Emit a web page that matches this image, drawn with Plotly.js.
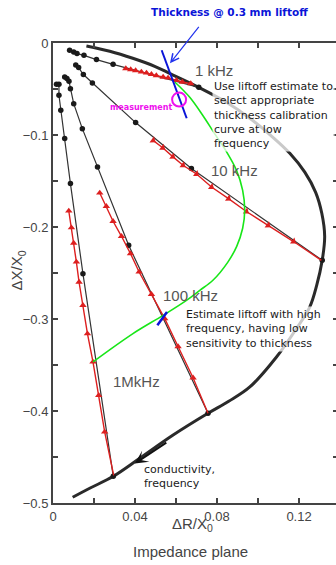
<!DOCTYPE html>
<html>
<head>
<meta charset="utf-8">
<script src="https://cdn.plot.ly/plotly-3.0.1.min.js"></script>
<style>
  html, body { margin: 0; padding: 0; overflow: hidden; background: #fff; }
  #chart { width: 338px; height: 565px; }
</style>
</head>
<body>
<div id="chart"></div>
<script>
// Normalised impedance-plane locus swept by conductivity / frequency
const arcR = [0.0163, 0.0277, 0.0389, 0.0496, 0.0599, 0.0711, 0.0838, 0.0960, 0.1067, 0.1155,
              0.1228, 0.1281, 0.1311, 0.1325, 0.1313, 0.1286, 0.1252, 0.1187, 0.1090, 0.0960,
              0.0857, 0.0756, 0.0584, 0.0423, 0.0294, 0.0179, 0.0096];
const arcX = [-0.0033, -0.0090, -0.0166, -0.0253, -0.0362, -0.0482, -0.0634, -0.0818, -0.1014, -0.1199,
              -0.1404, -0.1623, -0.1851, -0.2101, -0.2362, -0.2634, -0.2870, -0.3105, -0.3413, -0.3739,
              -0.3895, -0.4025, -0.4264, -0.4514, -0.4710, -0.4840, -0.4938];

// Measured liftoff curves (black, circles)
const meas1kR = [0.0081, 0.0101, 0.0117, 0.0151, 0.0212, 0.0293, 0.0711];
const meas1kX = [-0.0079, -0.0098, -0.0115, -0.0134, -0.0180, -0.0232, -0.0482];
const meas10kR = [0.0111, 0.0125, 0.0148, 0.0192, 0.0403, 0.0675, 0.1313];
const meas10kX = [-0.0239, -0.0267, -0.0343, -0.0435, -0.0865, -0.1365, -0.2362];
const meas100kR = [0.0057, 0.0068, 0.0078, 0.0085, 0.0101, 0.0143, 0.0217, 0.0369, 0.0756];
const meas100kX = [-0.0370, -0.0387, -0.0416, -0.0496, -0.0659, -0.0931, -0.1348, -0.2199, -0.4025];
const meas1MR = [0.0017, 0.0029, 0.0029, 0.0038, 0.0057, 0.0085, 0.0146, 0.0294];
const meas1MX = [-0.0449, -0.0449, -0.0568, -0.0732, -0.1039, -0.1528, -0.2507, -0.4710];

// Model liftoff curves (red, triangles)
const model1kR = [0.0355, 0.0379, 0.0403, 0.0431, 0.0456, 0.0480, 0.0504, 0.0537, 0.0561, 0.0602, 0.0631, 0.0672];
const model1kX = [-0.0278, -0.0289, -0.0300, -0.0315, -0.0326, -0.0340, -0.0354, -0.0370, -0.0380, -0.0405, -0.0424, -0.0441];
const model10kR = [0.0488, 0.0535, 0.0584, 0.0634, 0.0700, 0.0773, 0.0856, 0.0943, 0.1049, 0.1173, 0.1309];
const model10kX = [-0.1058, -0.1139, -0.1235, -0.1329, -0.1424, -0.1565, -0.1691, -0.1832, -0.1982, -0.2158, -0.2362];
const model100kR = [0.0228, 0.0260, 0.0293, 0.0334, 0.0378, 0.0420, 0.0480, 0.0545, 0.0610, 0.0683, 0.0756];
const model100kX = [-0.1630, -0.1775, -0.1938, -0.2101, -0.2289, -0.2489, -0.2732, -0.2996, -0.3299, -0.3639, -0.4025];
const model1MR = [0.0077, 0.0090, 0.0101, 0.0114, 0.0127, 0.0146, 0.0168, 0.0195, 0.0223, 0.0252, 0.0296];
const model1MX = [-0.1826, -0.2007, -0.2174, -0.2380, -0.2598, -0.2851, -0.3159, -0.3467, -0.3829, -0.4228, -0.4699];

// Constant 0.3 mm liftoff curve across thickness / frequency
const liftR = [0.0594, 0.0667, 0.0730, 0.0784, 0.0842, 0.0895, 0.0925, 0.0935, 0.0925, 0.0896,
               0.0852, 0.0780, 0.0716, 0.0651, 0.0537, 0.0390, 0.0195];
const liftX = [-0.0424, -0.0590, -0.0786, -0.0971, -0.1166, -0.1384, -0.1601, -0.1818, -0.2014, -0.2210,
               -0.2384, -0.2579, -0.2688, -0.2797, -0.2960, -0.3159, -0.3467];

// Thickness line at 1 kHz and the liftoff estimate at 100 kHz
const thickR = [0.0530, 0.0652];
const thickX = [-0.0079, -0.0818];
const estR = [0.0509, 0.0556];
const estX = [-0.3068, -0.2924];

// Measurement point
const measPtR = [0.0615];
const measPtX = [-0.0615];

const freqLabels = ['1 kHz', '10 kHz', '100 kHz', '1MkHz'];

const BLACK = '#2a2a2a';
const RED = '#dd1f1f';

function measured(r, x) {
  return { x: r, y: x, mode: 'lines+markers', type: 'scatter',
    line: { color: '#333', width: 1.2 },
    marker: { color: '#1a1a1a', size: 5.5, symbol: 'circle' }, hoverinfo: 'skip' };
}
function modelLine(r, x) {
  return { x: r, y: x, mode: 'lines', type: 'scatter',
    line: { color: RED, width: 1.4 }, hoverinfo: 'skip' };
}
function modelMarks(r, x, sym, ang) {
  return { x: r, y: x, mode: 'markers', type: 'scatter',
    marker: { color: RED, size: 6.5, symbol: sym, angle: ang }, hoverinfo: 'skip' };
}

const traces = [
  { x: arcR, y: arcX, mode: 'lines', type: 'scatter', line: { color: BLACK, width: 3, shape: 'spline' }, hoverinfo: 'skip' },
  measured(meas1kR, meas1kX),
  measured(meas10kR, meas10kX),
  measured(meas100kR, meas100kX),
  measured(meas1MR, meas1MX),
  modelLine(model1kR, model1kX),
  modelLine(model10kR, model10kX),
  modelLine(model100kR, model100kX),
  modelLine(model1MR, model1MX),
  modelMarks(model1kR, model1kX, 'triangle-up', 0),
  modelMarks(model10kR.slice(0, -1), model10kX.slice(0, -1), 'triangle-right', 36),
  modelMarks(model100kR.slice(0, -1), model100kX.slice(0, -1), 'triangle-up', 0),
  modelMarks(model1MR.slice(0, -1), model1MX.slice(0, -1), 'triangle-up', 0),
  { x: liftR, y: liftX, mode: 'lines', type: 'scatter', line: { color: '#18e618', width: 1.6, shape: 'spline' }, hoverinfo: 'skip' },
  { x: thickR, y: thickX, mode: 'lines', type: 'scatter', line: { color: '#0a14d8', width: 2 }, hoverinfo: 'skip' },
  { x: estR, y: estX, mode: 'lines', type: 'scatter', line: { color: '#0a14d8', width: 2.5 }, hoverinfo: 'skip' },
  { x: measPtR, y: measPtX, mode: 'markers', type: 'scatter',
    marker: { symbol: 'circle-open', size: 14, color: '#ee10ee', line: { width: 2, color: '#ee10ee' } }, hoverinfo: 'skip' }
];

const gray = '#555';
const noteFont = { family: 'DejaVu Sans', size: 11, color: '#1a1a1a' };
const freqFont = { family: 'Liberation Sans, Arial', size: 15, color: gray };
const haze = 'rgba(255,255,255,0.75)';

const annotations = [
  { x: 0.0784, y: -0.0297, text: freqLabels[0], showarrow: false, font: freqFont },
  { x: 0.0884, y: -0.1384, text: freqLabels[1], showarrow: false, font: freqFont },
  { x: 0.0671, y: -0.2742, text: freqLabels[2], showarrow: false, font: freqFont },
  { x: 0.0407, y: -0.3677, text: freqLabels[3], showarrow: false, font: freqFont },
  { x: 0.0774, y: -0.0786, xanchor: 'left', yanchor: 'middle', align: 'left', showarrow: false,
    text: 'Use liftoff estimate to<br>select appropriate<br>thickness calibration<br>curve at low<br>frequency',
    font: noteFont, bgcolor: haze, borderpad: 1 },
  { x: 0.0637, y: -0.3107, xanchor: 'left', yanchor: 'middle', align: 'left', showarrow: false,
    text: 'Estimate liftoff with high<br>frequency, having low<br>sensitivity to thickness',
    font: noteFont, bgcolor: haze, borderpad: 1 },
  { x: 0.0436, y: -0.4717, xanchor: 'left', yanchor: 'middle', align: 'left', showarrow: false,
    text: 'conductivity,<br>frequency', font: noteFont },
  { x: 0.0429, y: -0.0696, showarrow: false, text: '<b>measurement</b>',
    font: { family: 'DejaVu Sans', size: 8, color: '#ee10ee' } },
  // heading for the thickness line, above the frame
  { xref: 'paper', yref: 'paper', x: 0.621, y: 1.067, yanchor: 'middle', showarrow: false,
    text: '<b>Thickness @ 0.3 mm liftoff</b>',
    font: { family: 'DejaVu Sans', size: 10.5, color: '#0a14d8' } },
  // pointer from the heading down to the thickness line
  { xref: 'paper', yref: 'paper', x: 0.4105, y: 0.9559, ax: 30, ay: -38, text: '',
    showarrow: true, arrowhead: 5, arrowsize: 1.3, arrowwidth: 1.2, arrowcolor: '#2233ee' },
  // direction of increasing conductivity / frequency along the locus
  { x: 0.0399, y: -0.4572, ax: 33, ay: -22, text: '',
    showarrow: true, arrowhead: 3, arrowsize: 1.1, arrowwidth: 2, arrowcolor: '#111' },
  // axis titles
  { xref: 'paper', yref: 'paper', x: 0.49, y: -0.0457, yanchor: 'middle', showarrow: false,
    text: 'ΔR/X<sub>0</sub>', font: { family: 'Liberation Sans, Arial', size: 15, color: '#444' } },
  { xref: 'paper', yref: 'paper', x: -0.165, y: 0.5065, textangle: -90, showarrow: false,
    text: 'ΔX/X<sub>0</sub>', font: { family: 'Liberation Sans, Arial', size: 15, color: '#444' } },
  { xref: 'paper', yref: 'paper', x: 0.4825, y: -0.1065, yanchor: 'middle', showarrow: false,
    text: 'Impedance plane', font: { family: 'Liberation Sans, Arial', size: 15, color: '#444' } }
];

const axisCommon = {
  showline: true, linecolor: '#444', linewidth: 2, mirror: 'ticks',
  ticks: 'inside', ticklen: 5, tickwidth: 1.5, tickcolor: '#444',
  showgrid: false, zeroline: false,
  tickfont: { family: 'Liberation Sans, Arial', size: 13, color: '#444' }
};

const layout = {
  width: 338, height: 565,
  margin: { l: 53, r: 0, t: 43, b: 62 },
  paper_bgcolor: '#fff', plot_bgcolor: '#fff',
  showlegend: false,
  xaxis: Object.assign({}, axisCommon, {
    range: [0, 0.139], tick0: 0, dtick: 0.04,
    minor: { dtick: 0.02, ticks: 'inside', ticklen: 5, tickwidth: 1.5, tickcolor: '#444' }
  }),
  yaxis: Object.assign({}, axisCommon, {
    range: [-0.5, 0], tick0: 0, dtick: 0.1,
    minor: { dtick: 0.05, ticks: 'inside', ticklen: 5, tickwidth: 1.5, tickcolor: '#444' }
  }),
  annotations: annotations
};

Plotly.newPlot('chart', traces, layout, { staticPlot: true, displayModeBar: false });
</script>
</body>
</html>
